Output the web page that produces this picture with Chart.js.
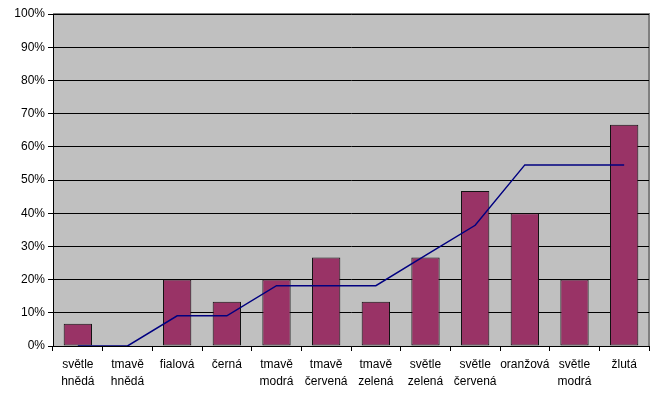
<!DOCTYPE html>
<html>
<head>
<meta charset="utf-8">
<script src="https://cdn.jsdelivr.net/npm/chart.js@4"></script>
<style>
  html, body { margin: 0; padding: 0; background: #fff; }
  #wrap { width: 663px; height: 394px; }
</style>
</head>
<body>
<div id="wrap"><canvas id="graf" width="663" height="394"></canvas></div>
<script>
// kategorie (barvy) a hodnoty v procentech
const kategorie = [
  ['světle', 'hnědá'], ['tmavě', 'hnědá'], ['fialová'], ['černá'],
  ['tmavě', 'modrá'], ['tmavě', 'červená'], ['tmavě', 'zelená'], ['světle', 'zelená'],
  ['světle', 'červená'], ['oranžová'], ['světle', 'modrá'], ['žlutá']
];
const sloupce = [6.67, 0, 20, 13.33, 20, 26.67, 13.33, 26.67, 46.67, 40, 20, 66.67];
const cara = [0, 0, 9.09, 9.09, 18.18, 18.18, 18.18, 27.27, 36.36, 54.55, 54.55, 54.55];

// šedé pozadí plochy grafu + rámeček
const pozadi = {
  id: 'pozadi',
  beforeDraw(chart) {
    const { ctx, chartArea: a } = chart;
    ctx.save();
    ctx.fillStyle = '#c0c0c0';
    ctx.fillRect(a.left, a.top, a.right - a.left, a.bottom - a.top);
    ctx.strokeStyle = '#808080';
    ctx.lineWidth = 2;
    ctx.beginPath();
    ctx.moveTo(a.left, a.top);
    ctx.lineTo(a.right, a.top);
    ctx.lineTo(a.right, a.bottom);
    ctx.stroke();
    ctx.restore();
  }
};

Chart.defaults.font.family = '"Liberation Sans", Arial, sans-serif';
Chart.defaults.font.size = 12;
Chart.defaults.color = '#000';

new Chart(document.getElementById('graf'), {
  data: {
    labels: kategorie,
    datasets: [
      {
        type: 'line',
        data: cara,
        borderColor: '#000080',
        borderWidth: 1.5,
        pointRadius: 0,
        tension: 0,
        fill: false,
        order: 0
      },
      {
        type: 'bar',
        data: sloupce,
        backgroundColor: '#993366',
        borderColor: '#111',
        borderWidth: 1,
        borderSkipped: false,
        barPercentage: 0.57,
        categoryPercentage: 1,
        order: 1
      }
    ]
  },
  options: {
    responsive: false,
    animation: false,
    layout: { padding: { left: 0, top: 14, right: 14, bottom: 0 } },
    plugins: { legend: { display: false }, tooltip: { enabled: false } },
    scales: {
      x: {
        offset: true,
        grid: { offset: true, drawOnChartArea: false, drawTicks: true, tickLength: 5, color: '#000' },
        border: { color: '#000', width: 1 },
        ticks: { maxRotation: 0, autoSkip: false, padding: 5, font: { size: 12, lineHeight: 1.4 } },
        afterFit: s => { s.height = 48; }
      },
      y: {
        min: 0,
        max: 100,
        ticks: { stepSize: 10, padding: 3, callback: v => v + '%' },
        grid: { color: '#000', tickLength: 5, drawTicks: true },
        border: { color: '#000', width: 1 },
        afterFit: s => { s.width = 53; }
      }
    }
  },
  plugins: [pozadi]
});
</script>
</body>
</html>
